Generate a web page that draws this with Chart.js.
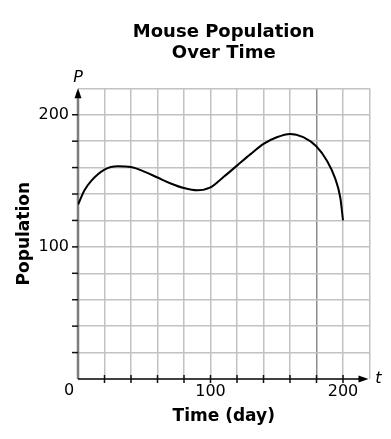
<!DOCTYPE html>
<html>
<head>
<meta charset="utf-8">
<script src="https://cdn.jsdelivr.net/npm/chart.js@4.4.1/dist/chart.umd.min.js"></script>
<style>
  body { margin: 0; background: #fff; }
  canvas { display: block; }
</style>
</head>
<body>
<canvas id="myChart" width="391" height="439"></canvas>
<script>
// data
const days = [0, 5, 10, 20, 30, 40, 50, 60, 70, 80, 90, 100, 110, 120, 130, 140, 150, 160, 170, 180, 188, 194, 198, 200]
const population = [132, 143, 150, 158.5, 161, 160.5, 157, 152.5, 148, 144.5, 142.8, 145, 153, 161.5, 170, 178, 183, 185.5, 183, 176, 165, 152, 137, 120]
const xLabels = [100, 200]
const yLabels = [100, 200]
const axisMax = 220
const step = 20

const FONT = '"DejaVu Sans", Verdana, sans-serif'

const axesPlugin = {
    id: 'axesPlugin',
    beforeDatasetsDraw(chart) {
        const { ctx, scales: { x, y } } = chart
        const x0 = x.getPixelForValue(0)
        const y0 = y.getPixelForValue(0)
        const xEnd = x.getPixelForValue(axisMax)
        const yEnd = y.getPixelForValue(axisMax)
        ctx.save()

        // y axis (gray)
        ctx.strokeStyle = '#7d7d7d'
        ctx.lineWidth = 2.5
        ctx.beginPath()
        ctx.moveTo(x0, y0)
        ctx.lineTo(x0, yEnd + 4)
        ctx.stroke()

        // x axis (black)
        ctx.strokeStyle = '#000'
        ctx.lineWidth = 1.5
        ctx.beginPath()
        ctx.moveTo(x0, y0)
        ctx.lineTo(xEnd - 4, y0)
        ctx.stroke()

        // tick marks
        ctx.strokeStyle = '#111'
        ctx.lineWidth = 1.5
        for (let v = step; v < axisMax; v += step) {
            const px = x.getPixelForValue(v)
            ctx.beginPath()
            ctx.moveTo(px, y0 - 4)
            ctx.lineTo(px, y0 + 4)
            ctx.stroke()
            const py = y.getPixelForValue(v)
            ctx.beginPath()
            ctx.moveTo(x0 - 6, py)
            ctx.lineTo(x0, py)
            ctx.stroke()
        }

        // arrow heads
        ctx.fillStyle = '#000'
        ctx.beginPath()
        ctx.moveTo(x0, yEnd)
        ctx.lineTo(x0 - 3.5, yEnd + 10)
        ctx.lineTo(x0 + 3.5, yEnd + 10)
        ctx.closePath()
        ctx.fill()
        ctx.beginPath()
        ctx.moveTo(xEnd - 1, y0)
        ctx.lineTo(xEnd - 11, y0 - 3.5)
        ctx.lineTo(xEnd - 11, y0 + 3.5)
        ctx.closePath()
        ctx.fill()

        // variable names and origin label
        ctx.font = 'italic 16px ' + FONT
        ctx.textAlign = 'center'
        ctx.textBaseline = 'middle'
        ctx.fillText('P', x0, yEnd - 10)
        ctx.fillText('t', xEnd + 9, y0)
        ctx.font = '16px ' + FONT
        ctx.fillText('0', x0 - 9, y0 + 12)
        ctx.restore()
    }
}

const gridColor = (ctx) => {
    const v = ctx.tick.value
    if (v === 0) return 'rgba(0,0,0,0)'
    if (v === 180 && ctx.scale.axis === 'x') return '#8c8c8c'
    return '#c2c2c2'
}

const ctx = document.getElementById('myChart')
new Chart(ctx, {
    type: 'line',
    data: {
        datasets: [
            {
                label: 'Population',
                data: days.map((d, i) => ({ x: d, y: population[i] })),
                borderColor: '#000',
                borderWidth: 2,
                pointRadius: 0,
                cubicInterpolationMode: 'monotone',
                fill: false
            }
        ]
    },
    options: {
        responsive: false,
        animation: false,
        layout: { padding: { top: 0, right: 21.5, bottom: 0, left: 0 } },
        plugins: {
            legend: { display: false },
            tooltip: { enabled: false },
            title: {
                display: true,
                fullSize: false,
                text: ['Mouse Population', 'Over Time'],
                color: '#000',
                font: { family: FONT, size: 18, weight: 'bold', lineHeight: 1.17 },
                padding: { top: 21.5, bottom: 24.7 }
            }
        },
        scales: {
            x: {
                type: 'linear',
                min: 0,
                max: axisMax,
                afterFit: (scale) => { scale.height = 60 },
                border: { display: false },
                grid: { color: gridColor, lineWidth: 1.5, drawTicks: false },
                ticks: {
                    stepSize: step,
                    padding: 3,
                    color: '#000',
                    maxRotation: 0,
                    autoSkip: false,
                    font: { family: FONT, size: 16 },
                    callback: (v) => xLabels.includes(v) ? String(v) : ''
                },
                title: {
                    display: true,
                    text: 'Time (day)',
                    color: '#000',
                    font: { family: FONT, size: 17, weight: 'bold' },
                    padding: { top: 0, bottom: 11.8 }
                }
            },
            y: {
                min: 0,
                max: axisMax,
                afterFit: (scale) => { scale.width = 78 },
                border: { display: false },
                grid: { color: gridColor, lineWidth: 1.5, drawTicks: false },
                ticks: {
                    stepSize: step,
                    padding: 9,
                    color: '#000',
                    autoSkip: false,
                    font: { family: FONT, size: 16 },
                    callback: (v) => yLabels.includes(v) ? String(v) : ''
                },
                title: {
                    display: true,
                    text: 'Population',
                    color: '#000',
                    font: { family: FONT, size: 17, weight: 'bold' },
                    padding: { top: 14.8, bottom: 0 }
                }
            }
        }
    },
    plugins: [axesPlugin]
})
</script>
</body>
</html>
